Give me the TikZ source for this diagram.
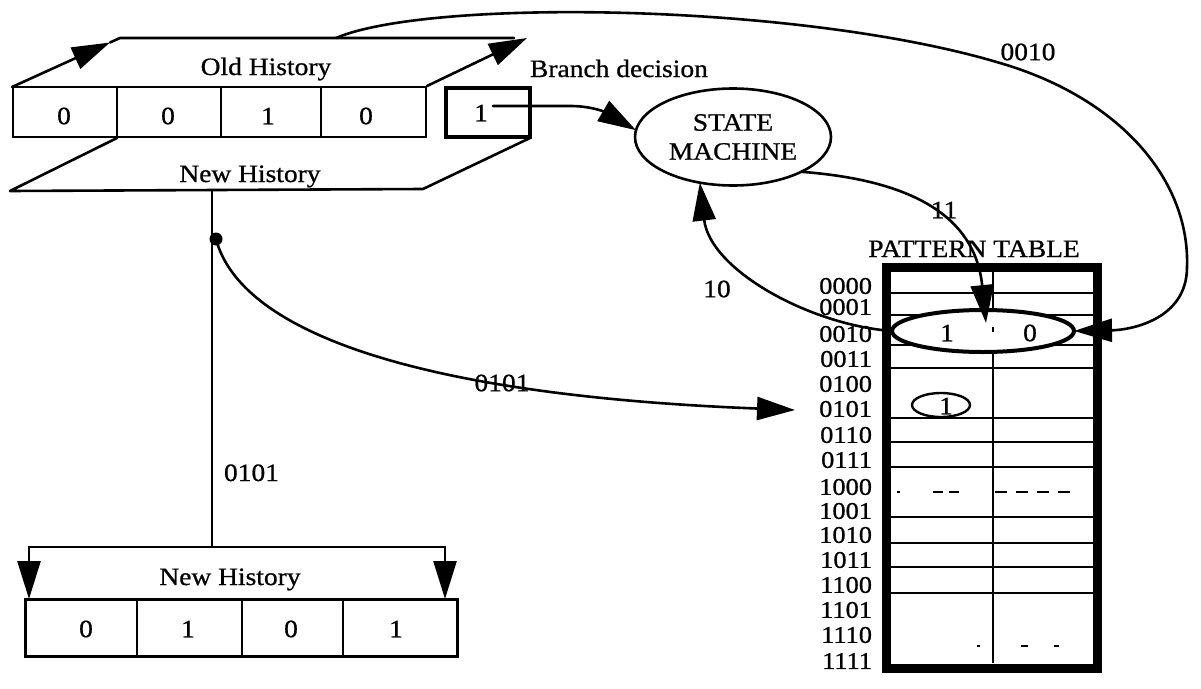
\documentclass[tikz,border=0pt]{standalone}
\usepackage{fontspec}
\setmainfont{Liberation Serif}[FakeStretch=1.1,FakeBold=0.8]
\usetikzlibrary{arrows.meta,shapes.geometric}

\begin{document}
\begin{tikzpicture}[x=1pt,y=-1pt,
  every node/.style={inner sep=0pt, outer sep=0pt, font=\fontsize{25}{29}\selectfont},
  ln/.style={line width=2.6pt, line join=round, line cap=round},
  thinln/.style={line width=1.8pt},
  hd/.style={-{Triangle[length=38pt,width=23pt]}},
  cellbox/.style={draw, line width=2.6pt, rectangle},
  rowlab/.style={anchor=east, font=\fontsize{24}{28}\selectfont},
]
\useasboundingbox (0,0) rectangle (1201,688);

% ---------- old history register ----------
\node[cellbox, minimum width=413pt, minimum height=50pt] (oreg) at (219.5,112) {};
\foreach \x in {117,221,321} \draw[thinln] (\x,87) -- (\x,137);
\node (o1) at (64,116) {0};
\node (o2) at (168,116) {0};
\node (o3) at (268,116) {1};
\node (o4) at (366,116) {0};
\node[anchor=base] (ohl) at (266,75) {Old History};
\node[anchor=base] (nhl) at (250,182) {New History};

% branch decision bit
\node[draw, line width=3.4pt, minimum width=84pt, minimum height=49pt] (bbox) at (488,112.5) {};
\node (bval) at (481,113) {1};
\node[anchor=base west] (blab) at (530,77) {Branch decision};

% upper plane (old history shifted left)
\coordinate (pl) at (12,87);
\coordinate (pa) at (110,42.5);
\coordinate (ptl) at (120,38);
\coordinate (ptm) at (514,38);
\coordinate (ptr) at (527,38);
\coordinate (prb) at (427,86);
\draw[ln,hd] (pl) -- (pa);
\draw[ln] (pa) -- (ptl) -- (ptm);
\draw[ln,hd] (prb) -- (ptr);

% lower plane (new history)
\coordinate (ql) at (117,138);
\coordinate (qb) at (10,191);
\coordinate (qc) at (423,189);
\coordinate (qr) at (530,138);
\draw[ln] (ql) -- (qb) -- (qc) -- (qr);

% new history taken down
\coordinate (nh) at (212,190);
\coordinate (nb) at (212,547);
\draw[ln] (nh) -- (nb);
\node[circle, fill, minimum size=13pt] (jd) at (216,239) {};
\node[anchor=base west] (v0101) at (224,481) {0101};

% new history register
\coordinate (bl) at (29,547);
\coordinate (br) at (445,547);
\draw[ln] (bl) -- (br);
\node[cellbox, line width=3pt, minimum width=432pt, minimum height=57pt] (nreg) at (241,627.5) {};
\draw[ln,hd] (bl) -- (bl |- nreg.north);
\draw[ln,hd] (br) -- (br |- nreg.north);
\foreach \x in {137,242,343} \draw[thinln] (\x,599) -- (\x,656);
\node (n1) at (86,629) {0};
\node (n2) at (188,629) {1};
\node (n3) at (291,629) {0};
\node (n4) at (396,629) {1};
\node[anchor=base] (nhl2) at (230,585) {New History};

% state machine
\node[ellipse, draw, line width=2.6pt, minimum width=196pt, minimum height=97pt, align=center] (sm) at (733,137) {STATE\\MACHINE};

% pattern table
\foreach \y in {293,315,345,368,418,442,467,517,543,567,593}
  \draw[thinln] (890,\y) -- (1093,\y);
\draw[thinln] (993,272) -- (993,663);
\draw[thinln] (897,492) -- (900,492);
\draw[thinln, dash pattern=on 10pt off 6pt] (933,492) -- (963,492);
\draw[thinln, dash pattern=on 12pt off 9pt] (995,492) -- (1073,492);
\draw[thinln] (977,646) -- (980,646);
\draw[thinln] (1021,646) -- (1028,646);
\draw[thinln] (1054,646) -- (1059,646);
\node[draw, line width=9pt, minimum width=211pt, minimum height=401pt] (ptab) at (991.5,467.5) {};
\node[anchor=base] (ptlab) at (974,257) {PATTERN TABLE};

\node[ellipse, draw, line width=4pt, fill=white, minimum width=182pt, minimum height=42pt] (r2) at (983,331) {};
\node (r2a) at (947,333) {1};
\node (r2b) at (1030,333) {0};
\draw[thinln] (993,327) -- (993,332);
\coordinate (r2in) at (986,323);

\node[ellipse, draw, line width=2.4pt, minimum width=58pt, minimum height=24pt] (e5) at (941,405) {};
\node (e5v) at (946,406) {1};

\foreach \t/\y in {0000/286,0001/307,0010/334,0011/359,0100/384,0101/409,0110/435,0111/460,
                   1000/487,1001/511,1010/535,1011/560,1100/585,1101/610,1110/635,1111/661}
  \node[rowlab] (L\t) at (872,\y) {\t};

% connectors
\coordinate (bout) at (493,106);
\draw[ln,hd] (bout) -- (570,106) .. controls (605,106) and (622,122) .. (sm.176);

\draw[ln,hd] (r2.west) .. controls (810,325) and (710,270) .. (sm.234);
\node (l10) at (717,289) {10};

\draw[ln,hd] (sm.333) .. controls (910,180) and (975,215) .. (r2in);
\node (l11) at (944,210) {11};

\coordinate (tap) at (336,38);
\draw[ln,hd] (tap) .. controls (430,-2) and (800,3) .. (1000,63)
  .. controls (1120,98) and (1190,180) .. (1187,267)
  .. controls (1187,320) and (1130,330) .. (r2.east);
\node (l0010) at (1028,52) {0010};

\coordinate (p0101) at (795,410);
\draw[ln,hd] (jd.center) .. controls (240,330) and (410,395) .. (p0101);
\node (l0101) at (502,383) {0101};
\end{tikzpicture}
\end{document}
